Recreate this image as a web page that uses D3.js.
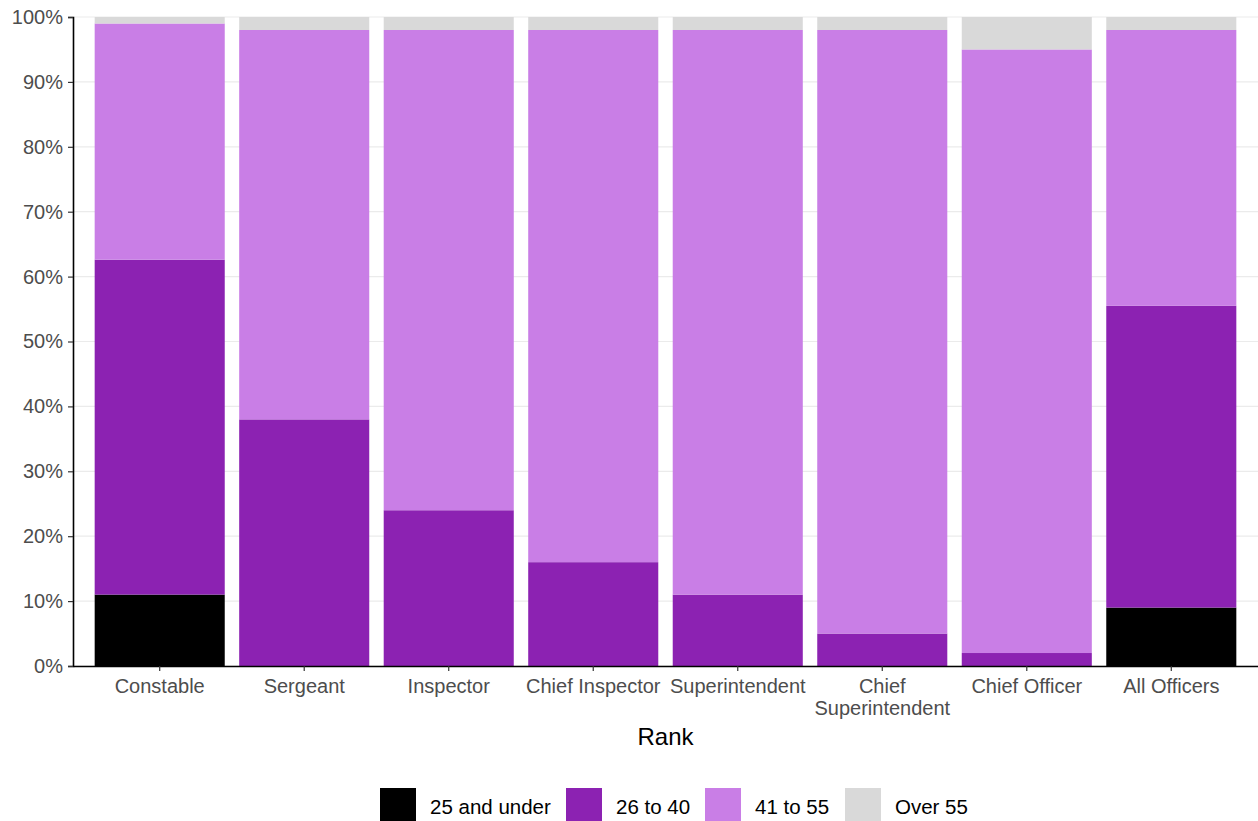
<!DOCTYPE html>
<html><head><meta charset="utf-8">
<script src="https://cdn.jsdelivr.net/npm/d3@7"></script>
<style>body{margin:0;background:#fff}text{font-family:"Liberation Sans",Arial,sans-serif}</style>
</head><body><svg id="c" width="1258" height="821"></svg>
<script>
const categories = ["Constable","Sergeant","Inspector","Chief Inspector","Superintendent","Chief Superintendent","Chief Officer","All Officers"];
const ageGroups = ["25 and under","26 to 40","41 to 55","Over 55"];
const under25 = [11, 0, 0, 0, 0, 0, 0, 9];
const age26to40 = [51.6, 38, 24, 16, 11, 5, 2, 46.5];
const age41to55 = [36.4, 60, 74, 82, 87, 93, 93, 42.5];
const over55 = [1, 2, 2, 2, 2, 2, 5, 2];
const yTicks = [0,10,20,30,40,50,60,70,80,90,100];
const colors = ["#000000","#8c22b2","#c97ee6","#d9d9d9"];

const svg = d3.select("#c");
const m = {l:73, r:0, t:17, b:155};
const W = 1258, H = 821;
const x = d3.scaleBand().domain(categories).range([m.l, W - m.r]).paddingInner(0.1).paddingOuter(0.15);
const y = d3.scaleLinear().domain([0,100]).range([H - m.b, m.t]);

const rows = categories.map((c,i)=>({cat:c, "25 and under":under25[i], "26 to 40":age26to40[i], "41 to 55":age41to55[i], "Over 55":over55[i]}));
const stack = d3.stack().keys(ageGroups)(rows);

// grid
svg.append("g").selectAll("line").data(yTicks).join("line")
  .attr("x1", m.l).attr("x2", W).attr("y1", d=>y(d)).attr("y2", d=>y(d))
  .attr("stroke","#ebebeb").attr("stroke-width",1.2);

svg.append("g").selectAll("g").data(stack).join("g")
  .attr("fill",(d,i)=>colors[i])
  .selectAll("rect").data(d=>d).join("rect")
  .attr("x", d=>x(d.data.cat)).attr("width", x.bandwidth())
  .attr("y", d=>y(d[1])).attr("height", d=>Math.max(0, y(d[0])-y(d[1])));

// axes
const ya = svg.append("g").attr("transform",`translate(${m.l},0)`)
  .call(d3.axisLeft(y).tickValues(yTicks).tickFormat(d=>d+"%").tickSize(5).tickPadding(5));
ya.select(".domain").attr("stroke","#000").attr("stroke-width",1.6);
ya.selectAll(".tick line").attr("stroke","#333").attr("stroke-width",1.2);
ya.selectAll(".tick text").attr("fill","#4d4d4d").style("font-size","20px");

const xa = svg.append("g").attr("transform",`translate(0,${H-m.b})`)
  .call(d3.axisBottom(x).tickSize(5).tickPadding(8).tickSizeOuter(0));
xa.select(".domain").attr("stroke","#000").attr("stroke-width",1.6);
xa.selectAll(".tick line").attr("stroke","#333").attr("stroke-width",1.2);
xa.selectAll(".tick text").attr("fill","#4d4d4d").style("font-size","20px")
  .each(function(d){
    if(d==="Chief Superintendent"){
      const t=d3.select(this); t.text("");
      t.append("tspan").attr("x",0).attr("dy","0.71em").text("Chief");
      t.append("tspan").attr("x",0).attr("dy","1.1em").text("Superintendent");
      t.attr("dy",null);
    }
  });

svg.append("text").attr("x", (m.l+W)/2).attr("y", 745).attr("text-anchor","middle")
  .style("font-size","24px").attr("fill","#000").text("Rank");

// legend
const legX = [380, 566, 705, 845];
const lg = svg.append("g");
ageGroups.forEach((g,i)=>{
  lg.append("rect").attr("x",legX[i]).attr("y",788).attr("width",36).attr("height",34).attr("fill",colors[i]);
  lg.append("text").attr("x",legX[i]+50).attr("y",814).style("font-size","20.5px").attr("fill","#000").text(g);
});
</script></body></html>
